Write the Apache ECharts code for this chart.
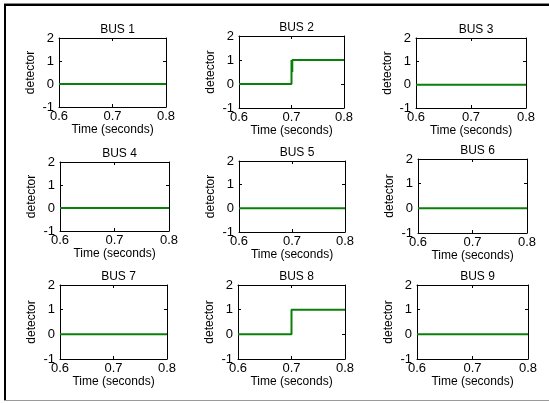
<!DOCTYPE html>
<html>
<head>
<meta charset="utf-8">
<script src="https://cdn.jsdelivr.net/npm/echarts@6/dist/echarts.min.js"></script>
<style>
  html, body { margin: 0; padding: 0; background: #fff; }
  #chart { width: 549px; height: 403px; }
</style>
</head>
<body>
<div id="chart"></div>
<script>
// data
const busNames = ["BUS 1", "BUS 2", "BUS 3", "BUS 4", "BUS 5", "BUS 6", "BUS 7", "BUS 8", "BUS 9"];
const flatTime = [0.6, 0.8];
const flatValue = [0, 0];
const bus2Time = [0.6, 0.7, 0.7, 0.7015, 0.7015, 0.8];
const bus2Value = [0, 0, 1, 0.5, 1, 1];
const bus8Time = [0.6, 0.7, 0.7, 0.8];
const bus8Value = [0, 0, 1, 1];
const xTicks = [0.6, 0.7, 0.8];
const yTicks = [-1, 0, 1, 2];

const seriesTime = [flatTime, bus2Time, flatTime, flatTime, flatTime, flatTime, flatTime, bus8Time, flatTime];
const seriesValue = [flatValue, bus2Value, flatValue, flatValue, flatValue, flatValue, flatValue, bus8Value, flatValue];

// layout: left, top, right, bottom of each axes box
const boxes = [
  [59, 38, 166, 107], [239, 36, 344, 108], [416, 38, 526, 108],
  [60, 162, 169, 231], [239, 161, 345, 232], [418, 159, 527, 233],
  [60, 285, 167, 359], [238, 285, 345, 359], [417, 285, 528, 359],
];

const font = "Liberation Sans, Arial, sans-serif";
const black = "#000";

const chart = echarts.init(document.getElementById("chart"));

const grids = [], xAxes = [], yAxes = [], series = [], titles = [];
boxes.forEach((b, i) => {
  const [l, t, r, bt] = b;
  grids.push({ left: l, top: t, width: r - l, height: bt - t, containLabel: false, show: true, backgroundColor: "#fff", borderWidth: 0 });
  const tick = { show: true, inside: true, length: 3, lineStyle: { color: black } };
  const line = { show: true, onZero: false, lineStyle: { color: black, width: 1 } };
  xAxes.push({
    gridIndex: i, type: "value", position: "bottom",
    min: xTicks[0], max: xTicks[xTicks.length - 1], interval: xTicks[1] - xTicks[0],
    axisLine: line, axisTick: tick, splitLine: { show: false },
    axisLabel: { color: black, fontSize: 13, fontFamily: font, margin: 3, formatter: (v) => v.toFixed(1) },
    name: "Time (seconds)", nameLocation: "middle", nameGap: 16,
    nameTextStyle: { color: black, fontSize: 12, fontFamily: font },
  });
  xAxes.push({
    gridIndex: i, type: "value", position: "top",
    min: xTicks[0], max: xTicks[xTicks.length - 1], interval: xTicks[1] - xTicks[0],
    axisLine: line, axisTick: tick, axisLabel: { show: false }, splitLine: { show: false },
  });
  yAxes.push({
    gridIndex: i, type: "value", position: "left",
    min: yTicks[0], max: yTicks[yTicks.length - 1], interval: 1,
    axisLine: line, axisTick: tick, splitLine: { show: false },
    axisLabel: { color: black, fontSize: 13, fontFamily: font, margin: 5 },
    name: "detector", nameLocation: "middle", nameGap: 22,
    nameTextStyle: { color: black, fontSize: 12, fontFamily: font },
  });
  yAxes.push({
    gridIndex: i, type: "value", position: "right",
    min: yTicks[0], max: yTicks[yTicks.length - 1], interval: 1,
    axisLine: line, axisTick: tick, axisLabel: { show: false }, splitLine: { show: false },
  });
  series.push({
    type: "line", xAxisIndex: i * 2, yAxisIndex: i * 2,
    data: seriesTime[i].map((x, k) => [x, seriesValue[i][k]]),
    showSymbol: false, animation: false, silent: true,
    lineStyle: { color: "#0a800a", width: 2 },
  });
  titles.push({
    text: busNames[i], left: (l + r) / 2, top: t - 19, textAlign: "center",
    textStyle: { color: black, fontSize: 12, fontWeight: "normal", fontFamily: font },
  });
});

chart.setOption({
  backgroundColor: "#fff",
  animation: false,
  title: titles,
  grid: grids,
  xAxis: xAxes,
  yAxis: yAxes,
  series: series,
  graphic: [
    { type: "rect", shape: { x: 4, y: 3, width: 549, height: 1 }, style: { fill: "#888" } },
    { type: "rect", shape: { x: 4, y: 4, width: 549, height: 2 }, style: { fill: "#000" } },
    { type: "rect", shape: { x: 4, y: 4, width: 2, height: 397 }, style: { fill: "#000" } },
    { type: "rect", shape: { x: 4, y: 400, width: 549, height: 1 }, style: { fill: "#999" } },
  ],
});
</script>
</body>
</html>
